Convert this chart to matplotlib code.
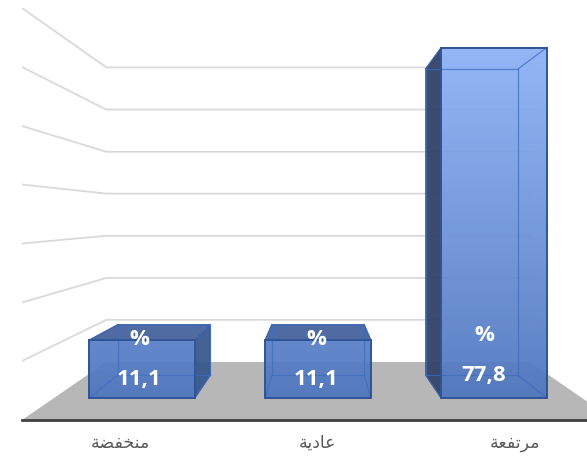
import numpy as np
import matplotlib
matplotlib.use('Agg')
import matplotlib.pyplot as plt
from matplotlib.colors import LinearSegmentedColormap
from matplotlib.patches import Polygon

# Arabic in presentation forms, logical order (matplotlib does no shaping)
categories = ['\uFEE3\uFEE8\uFEA8\uFED4\uFEC0\uFE94',
              '\uFECB\uFE8E\uFEA9\uFEF3\uFE94',
              '\uFEE3\uFEAE\uFE97\uFED4\uFECC\uFE94']
values = [11.1, 11.1, 77.8]
value_labels = ['11,1', '11,1', '77,8']
y_ticks = [-2.1, 9.9, 21.8, 33.8, 45.8, 57.7, 69.7, 81.7]

y_min, y_max = -2.1, 81.7
x_min, x_max = -0.5, 2.5
x_mid = 1
shrink = 0.285     # back of the box is this much smaller
rise = 11.8        # floor depth, in y units
bar_w = 0.6
d_front, d_back = 0.38, 0.77


def proj(x, v, d):
    s = 1 - shrink * d
    return x_mid + (x - x_mid) * s, y_min + (v - y_min) * s + rise * d


fig = plt.figure(figsize=(5.87, 4.57), dpi=100)
ax = fig.add_axes([22 / 587, 37 / 457, 592 / 587, 412 / 457])

# floor
floor = [proj(x_min, y_min, 0), proj(x_max, y_min, 0), proj(x_max, y_min, 1), proj(x_min, y_min, 1)]
ax.add_patch(Polygon(floor, closed=True, fc='#b7b7b7', ec='none', zorder=1))

# gridlines on the side and back walls
for v in y_ticks[1:]:
    a, b, c = proj(x_min, v, 0), proj(x_min, v, 1), proj(x_max, v, 1)
    ax.plot([a[0], b[0], c[0]], [a[1], b[1], c[1]], color='#d9d9d9', lw=1.3, zorder=2)

cmap = LinearSegmentedColormap.from_list('bars', ['#4a72ba', '#92b8fd'])
grad = np.linspace(0, 1, 256).reshape(-1, 1)

for i, val in enumerate(values):
    x0, x1 = i - bar_w / 2, i + bar_w / 2
    fbl, fbr = proj(x0, y_min, d_front), proj(x1, y_min, d_front)
    ftl, ftr = proj(x0, val, d_front), proj(x1, val, d_front)
    bbl, bbr = proj(x0, y_min, d_back), proj(x1, y_min, d_back)
    btl, btr = proj(x0, val, d_back), proj(x1, val, d_back)

    # only the faces that stick out of the front one get the dark fill
    if btl[0] < ftl[0]:
        ax.add_patch(Polygon([fbl, ftl, btl, bbl], fc='#34466a', ec='#34466a', alpha=0.97, lw=0.8, zorder=3))
    if btr[0] > ftr[0]:
        ax.add_patch(Polygon([fbr, ftr, btr, bbr], fc='#34558c', ec='#2f5597', alpha=0.92, lw=0.8, zorder=3))
    if btl[1] > ftl[1]:
        ax.add_patch(Polygon([ftl, ftr, btr, btl], fc='#46639c', ec='#2f5597', alpha=0.95, lw=0.8, zorder=3))

    front = Polygon([fbl, fbr, ftr, ftl], closed=True, fc='none', ec='#2f5597', lw=1.4, zorder=6)
    ax.add_patch(front)
    im = ax.imshow(grad, cmap=cmap, origin='lower', aspect='auto', alpha=0.93,
                   extent=[x_min, x_max, y_min, y_max], interpolation='bilinear', zorder=4)
    im.set_clip_path(front)

    # inner edges of the box, seen through the front face
    for p, q in [(btl, btr), (btr, bbr), (bbr, bbl), (bbl, btl), (fbl, bbl), (fbr, bbr), (ftl, btl), (ftr, btr)]:
        ax.plot([p[0], q[0]], [p[1], q[1]], color='#3f6bc0', lw=0.9, alpha=0.75, zorder=5)

    # data label, two lines: number then percent sign above it
    lx, ly = proj(i, y_min, (d_front + d_back) / 2)
    lift = 1 if val > 50 else -3
    shift = {0: -14, 1: -2, 2: 1}[i]
    ax.annotate(value_labels[i], (lx, ly), xytext=(shift * 0.72, lift * 0.72), textcoords='offset points',
                color='white', fontsize=16, fontweight='bold', family='Open Sans',
                ha='center', va='bottom', zorder=7)
    ax.annotate('%', (lx, ly), xytext=(shift * 0.72, (lift + 40) * 0.72), textcoords='offset points',
                color='white', fontsize=16, fontweight='bold', family='Open Sans',
                ha='center', va='bottom', zorder=7)

ax.set_xlim(x_min, x_max)
ax.set_ylim(y_min, y_max)
ax.set_xticks(range(len(categories)))
ax.set_xticklabels([c[::-1] for c in categories], fontsize=12.5, color='#595959', family='DejaVu Sans')
ax.set_yticks(y_ticks)
ax.set_yticklabels([])
ax.tick_params(length=0)
ax.tick_params(axis='x', pad=10)
for side in ['top', 'left', 'right']:
    ax.spines[side].set_visible(False)
ax.spines['bottom'].set_color('#404040')
ax.spines['bottom'].set_linewidth(2)
ax.set_facecolor('white')

fig.savefig('out.png', dpi=100)
